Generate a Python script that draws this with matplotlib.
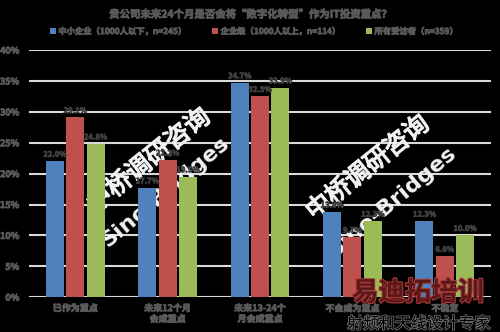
import numpy as np
import matplotlib
matplotlib.use('Agg')
from matplotlib import pyplot as plt
import matplotlib.patheffects as pe

plt.rcParams['font.family'] = ['Noto Sans CJK SC', 'DejaVu Sans']

# data
title = '贵公司未来24个月是否会将“数字化转型”作为IT投资重点？'
categories = ['已作为重点', '未来12个月\n会成重点', '未来13-24个\n月会成重点', '不会成为重点', '不确定']
series_names = ['中小企业（1000人以下，n=245）', '企业级（1000人以上，n=114）', '所有受访者（n=359）']
smb = [22.0, 17.7, 34.7, 13.8, 12.3]
enterprise = [29.1, 22.2, 32.5, 9.7, 6.6]
all_resp = [24.8, 19.5, 33.9, 12.3, 10.0]
colors = ['#4f81bd', '#c0504d', '#9bbb59']

TXT = '#595959'
W = 'heavy'
# the CJK font has no real bold here, so thicken with a stroke
thick = [pe.withStroke(linewidth=0.6, foreground=TXT)]
thick_dark = [pe.withStroke(linewidth=0.5, foreground='#404040')]

fig = plt.figure(figsize=(5, 3.32), dpi=100, facecolor='black')
ax = fig.add_axes([0.058, 0.105, 0.924, 0.744], facecolor='black')

x = np.arange(len(categories))
width = 0.195
offsets = [-0.22, 0, 0.22]
for vals, name, col, off in zip([smb, enterprise, all_resp], series_names, colors, offsets):
    bars = ax.bar(x + off, np.array(vals) / 100, width, color=col, label=name, zorder=3)
    for b, v in zip(bars, vals):
        ax.text(b.get_x() + b.get_width() / 2, b.get_height() + 0.004, f'{v:.1f}%',
                ha='center', va='bottom', fontsize=5.5, fontweight=W, color='#404040',
                zorder=4, path_effects=thick_dark)

ax.set_xlim(-0.5, 4.5)
ax.set_ylim(0, 0.40)
ax.set_yticks(np.arange(0, 0.41, 0.05))
ax.set_yticklabels([f'{int(round(t * 100))}%' for t in np.arange(0, 0.41, 0.05)])
ax.set_xticks(x)
ax.set_xticklabels(categories)
ax.tick_params(axis='both', length=0, labelsize=6.5, labelcolor=TXT)
ax.tick_params(axis='y', pad=7)
ax.tick_params(axis='x', pad=5)
for lbl in ax.get_xticklabels() + ax.get_yticklabels():
    lbl.set_fontweight(W)
    lbl.set_path_effects(thick)
ax.grid(axis='y', color='#d9d9d9', linewidth=1.5, zorder=0)
ax.set_axisbelow(True)
for s in ax.spines.values():
    s.set_visible(False)

fig.text(0.5, 0.957, title, ha='center', va='center', fontsize=7.5, fontweight=W, color=TXT,
         path_effects=thick)
leg = fig.legend(loc='center', bbox_to_anchor=(0.508, 0.905), ncol=3, frameon=False,
                 handlelength=0.7, handleheight=0.7, handletextpad=0.3,
                 columnspacing=3.1, labelcolor=TXT, prop={'weight': W, 'size': 6})
for t in leg.get_texts():
    t.set_path_effects(thick)

# watermarks behind the bars, drawn in figure coords inside the axes
def px(xp, yp):
    return xp / 500, 1 - yp / 332

for cx, cy in [(149, 161), (368, 168)]:
    ax.text(*px(cx, cy), '中桥调研咨询', transform=fig.transFigure, rotation=39,
            ha='center', va='center', fontsize=18, color='#f2f2f2', zorder=1,
            path_effects=[pe.withStroke(linewidth=1.0, foreground='#f2f2f2')])
for cx, cy in [(165, 192), (392, 202)]:
    ax.text(*px(cx, cy), 'Sino-Bridges', transform=fig.transFigure, rotation=40,
            ha='center', va='center', fontsize=16, fontweight='bold', color='#f2f2f2',
            family='DejaVu Sans', zorder=1)

fig.text(*px(418, 293), '易迪拓培训', ha='center', va='center', fontsize=19, fontweight='bold',
         color='#5a1818', zorder=10,
         path_effects=[pe.withStroke(linewidth=1.5, foreground='#a83a3a')])
fig.text(*px(419, 324), '射频和天线设计专家', ha='center', va='center', fontsize=11.5,
         color='black', zorder=10,
         path_effects=[pe.withStroke(linewidth=1.2, foreground='#707070')])

fig.savefig('out.png', dpi=100, facecolor='black')
